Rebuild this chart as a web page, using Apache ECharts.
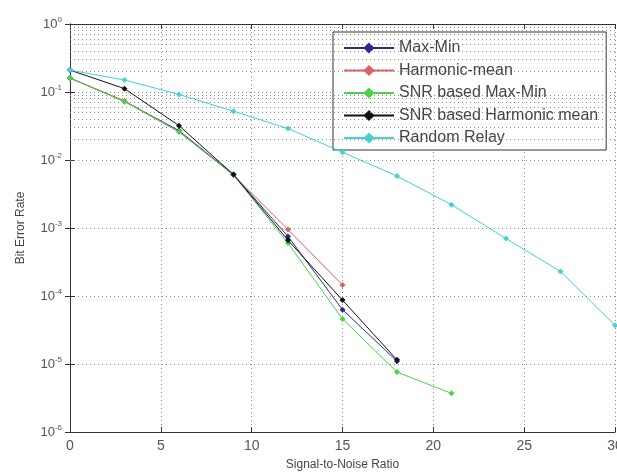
<!DOCTYPE html>
<html>
<head>
<meta charset="utf-8">
<script src="https://cdn.jsdelivr.net/npm/echarts@6/dist/echarts.min.js"></script>
<style>html,body{margin:0;padding:0;background:#fff;}#c{width:617px;height:476px;}</style>
</head>
<body>
<div id="c"></div>
<script>
const snr = [0, 3, 6, 9, 12, 15, 18, 21, 24, 27, 30];
const seriesNames = ['Max-Min', 'Harmonic-mean', 'SNR based Max-Min', 'SNR based Harmonic mean', 'Random Relay'];
const maxMin = [0.16, 0.073, 0.027, 0.0061, 7.5e-4, 6.3e-5, 1.1e-5];
const harmonicMean = [0.16, 0.074, 0.026, 0.006, 9.5e-4, 1.45e-4];
const snrMaxMin = [0.16, 0.072, 0.026, 0.006, 6.0e-4, 4.6e-5, 7.6e-6, 3.7e-6];
const snrHarmonic = [0.21, 0.112, 0.032, 0.0061, 6.6e-4, 8.7e-5, 1.15e-5];
const randomRelay = [0.21, 0.15, 0.092, 0.052, 0.029, 0.013, 0.0058, 0.0022, 7.0e-4, 2.3e-4, 3.7e-5];
const xTicks = [0, 5, 10, 15, 20, 25, 30];
const yDecades = [-6, -5, -4, -3, -2, -1, 0];
const colors = ['#2a2a95', '#e06060', '#45d845', '#111111', '#40d4d4'];

const allData = [maxMin, harmonicMean, snrMaxMin, snrHarmonic, randomRelay];

// minor log grid lines (2..9 of each decade)
const minorVals = [];
for (const d of yDecades.slice(0, -1)) {
  for (let m = 2; m <= 9; m++) minorVals.push(m * Math.pow(10, d));
}

const chart = echarts.init(document.getElementById('c'), null, {renderer: 'canvas'});

const series = allData.map((arr, i) => ({
  name: seriesNames[i],
  type: 'line',
  data: arr.map((v, j) => [snr[j], v]),
  symbol: 'diamond',
  symbolSize: 6,
  showSymbol: true,
  lineStyle: {width: 1, color: colors[i]},
  itemStyle: {color: colors[i]},
  color: colors[i],
  z: 5 + i
}));

series.unshift({
  name: '__grid',
  type: 'line',
  data: [],
  silent: true,
  z: 1,
  markLine: {
    silent: true,
    symbol: 'none',
    animation: false,
    label: {show: false},
    lineStyle: {type: [1, 3], color: '#8a8a8a', width: 1},
    data: minorVals.map(v => ({yAxis: v}))
  }
});

const font = 'Liberation Sans, Arial';

chart.setOption({
  animation: false,
  backgroundColor: '#ffffff',
  grid: {left: 70, right: 2, top: 24, bottom: 44, containLabel: false, outerBoundsMode: 'none'},
  legend: {
    data: seriesNames,
    orient: 'vertical',
    left: 333,
    top: 32,
    backgroundColor: '#ffffff',
    borderColor: '#333',
    borderWidth: 1,
    borderRadius: 0,
    padding: [8, 8, 4, 10],
    itemGap: 6.5,
    itemWidth: 50,
    itemHeight: 14,
    textStyle: {fontFamily: font, fontSize: 16, lineHeight: 16, color: '#444'}
  },
  xAxis: [{
    type: 'value',
    min: 0, max: 30, interval: 5,
    name: 'Signal-to-Noise Ratio',
    nameLocation: 'middle',
    nameGap: 27,
    nameTextStyle: {fontFamily: font, fontSize: 12, color: '#444'},
    axisLine: {show: true, onZero: false, lineStyle: {color: '#333', width: 1}},
    axisTick: {show: true, inside: true, length: 5, lineStyle: {color: '#333'}},
    axisLabel: {fontFamily: font, fontSize: 14, color: '#555', margin: 7},
    splitLine: {show: true, lineStyle: {type: [1, 3], color: '#8a8a8a'}}
  }, {
    type: 'value', position: 'top',
    min: 0, max: 30, interval: 5,
    axisLine: {show: true, lineStyle: {color: '#333', width: 1}},
    axisTick: {show: true, inside: true, length: 5, lineStyle: {color: '#333'}},
    axisLabel: {show: false},
    splitLine: {show: false}
  }],
  yAxis: [{
    type: 'log',
    logBase: 10,
    min: 1e-6, max: 1,
    name: 'Bit Error Rate',
    nameLocation: 'middle',
    nameGap: 43,
    nameRotate: 90,
    nameTextStyle: {fontFamily: font, fontSize: 12, color: '#444'},
    axisLine: {show: true, onZero: false, lineStyle: {color: '#333', width: 1}},
    axisTick: {show: true, inside: true, length: 5, lineStyle: {color: '#333'}},
    axisLabel: {
      fontFamily: font, color: '#555', margin: 8,
      formatter: function (v) {
        const e = Math.round(Math.log10(v));
        return '{b|10}{s|' + String(e) + '}';
      },
      rich: {
        b: {fontSize: 13, color: '#555', fontFamily: font},
        s: {fontSize: 8, color: '#555', fontFamily: font, verticalAlign: 'bottom', padding: [0, 0, 9, 0]}
      }
    },
    splitLine: {show: true, lineStyle: {type: [1, 3], color: '#8a8a8a'}}
  }, {
    type: 'log', position: 'right',
    logBase: 10,
    min: 1e-6, max: 1,
    axisLine: {show: true, lineStyle: {color: '#333', width: 1}},
    axisTick: {show: true, inside: true, length: 5, lineStyle: {color: '#333'}},
    axisLabel: {show: false},
    splitLine: {show: false}
  }],
  series: series
});
</script>
</body>
</html>
